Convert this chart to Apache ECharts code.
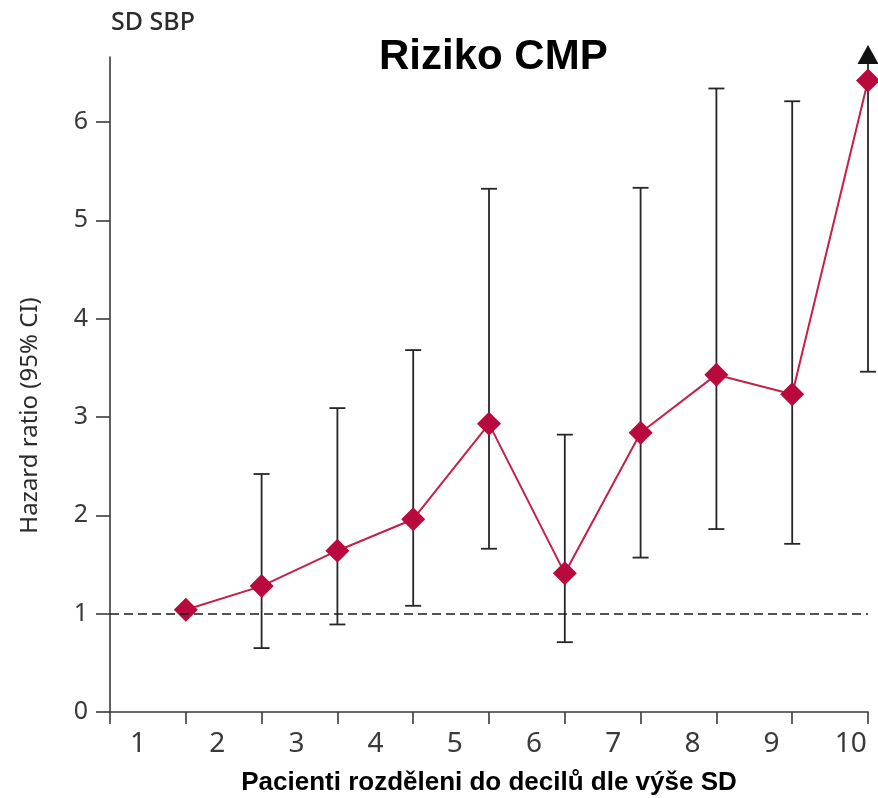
<!DOCTYPE html>
<html>
<head>
<meta charset="utf-8">
<script src="https://cdn.jsdelivr.net/npm/echarts@6/dist/echarts.min.js"></script>
<style>
  html, body { margin: 0; padding: 0; background: #ffffff; }
  #chart { width: 878px; height: 798px; }
</style>
</head>
<body>
<div id="chart"></div>
<script>
// Deciles of systolic BP variability (SD) and the stroke hazard ratio in each
const deciles = [1, 2, 3, 4, 5, 6, 7, 8, 9, 10];
const deciliLabels = ['1', '2', '3', '4', '5', '6', '7', '8', '9', '10'];
const hazardRatio = [1.04, 1.28, 1.64, 1.96, 2.93, 1.41, 2.84, 3.43, 3.23, 6.42];
// 95% CI; null lower = reference decile, null upper = bound beyond the axis
const ciLower = [null, 0.65, 0.89, 1.08, 1.66, 0.71, 1.57, 1.86, 1.71, 3.46];
const ciUpper = [null, 2.42, 3.09, 3.68, 5.32, 2.82, 5.33, 6.34, 6.21, null];
const yTicks = [0, 1, 2, 3, 4, 5, 6];
const referenceHR = 1;

const Y_MAX = 6.66;
const AXIS_COLOR = '#3a3a3a';
const BAR_COLOR = '#262626';
const LABEL_FONT = '"Noto Sans", "Open Sans", sans-serif';
const BOLD_FONT = '"Liberation Sans", Arial, sans-serif';

const pointData = deciles.map((d, i) => [d, hazardRatio[i]]);
const errorData = deciles
  .map((d, i) => ciLower[i] == null ? null
    : [d, ciLower[i], ciUpper[i] == null ? Y_MAX : ciUpper[i], ciUpper[i] == null ? 1 : 0])
  .filter(Boolean);

function renderErrorBar(params, api) {
  const x = api.value(0);
  const lo = api.coord([x, api.value(1)]);
  const hi = api.coord([x, api.value(2)]);
  const open = api.value(3) === 1;
  const cap = 8;
  const style = { stroke: BAR_COLOR, lineWidth: 1.8, fill: null };
  const children = [
    { type: 'line', shape: { x1: lo[0], y1: lo[1], x2: hi[0], y2: hi[1] }, style },
    { type: 'line', shape: { x1: lo[0] - cap, y1: lo[1], x2: lo[0] + cap, y2: lo[1] }, style }
  ];
  if (open) {
    children.push({
      type: 'polygon',
      shape: { points: [[hi[0], hi[1] - 12], [hi[0] - 10.5, hi[1] + 7], [hi[0] + 10.5, hi[1] + 7]] },
      style: { fill: '#111111' }
    });
  } else {
    children.push({ type: 'line', shape: { x1: hi[0] - cap, y1: hi[1], x2: hi[0] + cap, y2: hi[1] }, style });
  }
  return { type: 'group', children };
}

const chart = echarts.init(document.getElementById('chart'), null, { renderer: 'canvas' });

chart.setOption({
  animation: false,
  backgroundColor: '#ffffff',
  title: [
    {
      text: 'Riziko CMP',
      left: 374, top: 31,
      textStyle: { fontFamily: BOLD_FONT, fontWeight: 'bold', fontSize: 42, color: '#000000' }
    },
    {
      text: 'SD SBP',
      left: 106, top: 5,
      textStyle: { fontFamily: LABEL_FONT, fontWeight: 500, fontSize: 25, color: '#2b2b2b' }
    }
  ],
  grid: { left: 110, right: 10, top: 57, bottom: 86, containLabel: false, outerBoundsMode: 'none' },
  xAxis: [
    {
      type: 'value', min: 0, max: 10, interval: 1, position: 'bottom',
      axisLine: { show: true, lineStyle: { color: AXIS_COLOR, width: 1.6 } },
      axisTick: { show: true, length: 12, lineStyle: { color: AXIS_COLOR, width: 1.6 } },
      axisLabel: { show: false },
      splitLine: { show: false },
      name: 'Pacienti rozděleni do decilů dle výše SD',
      nameLocation: 'middle', nameGap: 58,
      nameTextStyle: { fontFamily: BOLD_FONT, fontWeight: 'bold', fontSize: 26, color: '#000000' }
    },
    {
      type: 'value', min: 0.646, max: 10.217, position: 'bottom', offset: 0,
      axisLine: { show: false },
      axisTick: { show: false },
      splitLine: { show: false },
      axisLabel: {
        customValues: deciles,
        formatter: (v) => deciliLabels[deciles.indexOf(v)] || '',
        margin: 18,
        fontFamily: LABEL_FONT, fontSize: 28, color: '#3a3a3a'
      }
    }
  ],
  yAxis: {
    type: 'value', min: 0, max: Y_MAX,
    axisLine: { show: true, lineStyle: { color: AXIS_COLOR, width: 1.6 } },
    axisTick: { show: true, length: 14, customValues: yTicks, lineStyle: { color: AXIS_COLOR, width: 1.6 } },
    axisLabel: {
      customValues: yTicks, margin: 22,
      fontFamily: LABEL_FONT, fontSize: 25, color: '#3a3a3a'
    },
    splitLine: { show: false },
    name: 'Hazard ratio (95% CI)',
    nameLocation: 'middle', nameRotate: 90, nameGap: 68,
    nameTextStyle: { fontFamily: LABEL_FONT, fontSize: 24, color: '#2b2b2b', padding: [0, 62, 0, 0] }
  },
  series: [
    {
      type: 'custom',
      xAxisIndex: 0, yAxisIndex: 0,
      renderItem: renderErrorBar,
      encode: { x: 0, y: [1, 2] },
      data: errorData,
      clip: false,
      z: 2,
      markLine: {
        silent: true, symbol: ['none', 'none'], label: { show: false },
        lineStyle: { color: '#1a1a1a', width: 1.7, type: [9, 5] },
        data: [{ yAxis: referenceHR }]
      }
    },
    {
      type: 'line',
      xAxisIndex: 0, yAxisIndex: 0,
      data: pointData,
      symbol: 'diamond', symbolSize: 24,
      itemStyle: { color: '#b80a3c' },
      lineStyle: { color: '#c51f4a', width: 2 },
      clip: false,
      z: 3
    }
  ]
});
</script>
</body>
</html>
